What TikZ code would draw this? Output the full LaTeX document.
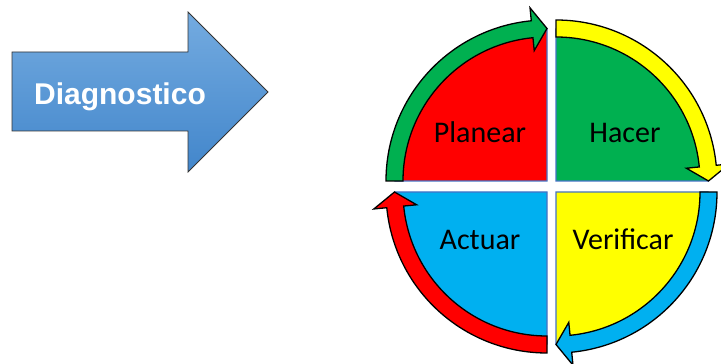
\documentclass[tikz,border=0pt]{standalone}
\usepackage{fontspec}
\setmainfont{Carlito}
\newfontfamily\arialfont{Liberation Sans}
\usetikzlibrary{calc}

\definecolor{quadline}{HTML}{4472C4}
\definecolor{pdcared}{HTML}{FF0000}
\definecolor{pdcagreen}{HTML}{00B050}
\definecolor{pdcayellow}{HTML}{FFFF00}
\definecolor{pdcablue}{HTML}{00B0F0}
\definecolor{diagtop}{HTML}{74ABE0}
\definecolor{diagbottom}{HTML}{4286CB}

\begin{document}
\begin{tikzpicture}[x=1pt, y=1pt,
    quadrant/.style={draw=quadline, line width=1.2pt},
    phase/.style={anchor=base, font=\fontsize{30}{36}\selectfont},
    cyclearrow/.pic={
      \filldraw[pic actions, draw=black, line width=1.3pt, line join=miter]
        (180:144) -- (180:161) arc[start angle=180, end angle=95.6, radius=161]
        -- (95.6:174) -- (90:152.5) -- (95.6:131) -- (95.6:144)
        arc[start angle=95.6, end angle=180, radius=144] -- cycle;
    }]
    \useasboundingbox (0,0) rectangle (721,364);

    % Diagnostico arrow
    \shadedraw[top color=diagtop, bottom color=diagbottom, draw=black!80, line width=0.8pt]
      (12,312) -- (188,312) -- (188,352) -- (268,272) -- (188,192) -- (188,233) -- (12,233) -- cycle;
    \node[anchor=base, text=white, font=\arialfont\bfseries\fontsize{30}{36}\selectfont]
      (diag) at (120,259) {Diagnostico};

    % Centres of the quadrants
    \coordinate (cplan) at (547,183);
    \coordinate (chac) at (556,183);
    \coordinate (cver) at (556,172);
    \coordinate (cact) at (547,172);

    % Quadrants
    \filldraw[quadrant, fill=pdcared] (cplan) -- ++(180:152) arc[start angle=180, end angle=90, radius=152] -- cycle;
    \filldraw[quadrant, fill=pdcagreen] (chac) -- ++(90:152) arc[start angle=90, end angle=0, radius=152] -- cycle;
    \filldraw[quadrant, fill=pdcayellow] (cver) -- ++(0:152) arc[start angle=0, end angle=-90, radius=152] -- cycle;
    \filldraw[quadrant, fill=pdcablue] (cact) -- ++(-90:152) arc[start angle=-90, end angle=-180, radius=152] -- cycle;

    % Arrows round the cycle
    \pic[fill=pdcagreen] at (cplan) {cyclearrow};
    \pic[fill=pdcayellow, rotate=-90] at (chac) {cyclearrow};
    \pic[fill=pdcablue, rotate=-180] at (cver) {cyclearrow};
    \pic[fill=pdcared, rotate=-270] at (cact) {cyclearrow};

    % Labels
    \node[phase] (planear) at (480,221) {Planear};
    \node[phase] (hacer) at (625,221) {Hacer};
    \node[phase] (actuar) at (480,114) {Actuar};
    \node[phase] (verificar) at (623,114) {Verificar};
\end{tikzpicture}
\end{document}
